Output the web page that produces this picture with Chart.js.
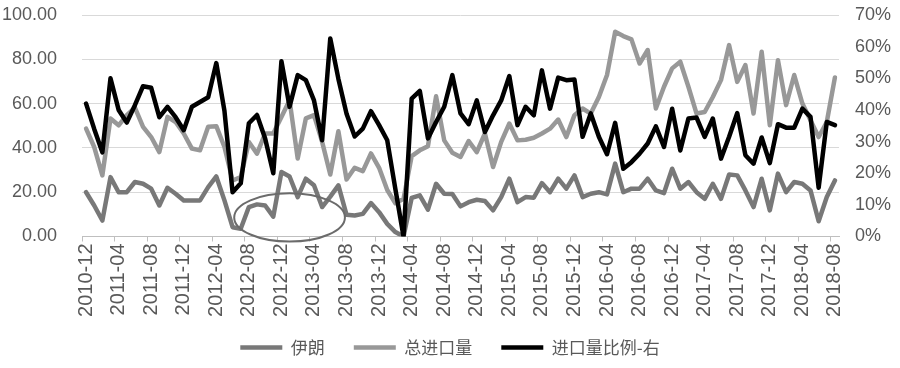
<!DOCTYPE html>
<html>
<head>
<meta charset="utf-8">
<script src="https://cdn.jsdelivr.net/npm/chart.js@4/dist/chart.umd.min.js"></script>
<style>
  html, body { margin: 0; padding: 0; background: #ffffff; }
  #wrap { width: 900px; height: 368px; }
</style>
</head>
<body>
<div id="wrap"><canvas id="c" width="900" height="368"></canvas></div>
<script>
// ---- categories ----
const months = [
  "2010-12",
  "2011-01","2011-02","2011-03","2011-04","2011-05","2011-06","2011-07","2011-08","2011-09","2011-10","2011-11","2011-12",
  "2012-01","2012-02","2012-03","2012-04","2012-05","2012-06","2012-07","2012-08","2012-09","2012-10","2012-11","2012-12",
  "2013-01","2013-02","2013-03","2013-04","2013-05","2013-06","2013-07","2013-08","2013-09","2013-10","2013-11","2013-12",
  "2014-01","2014-02","2014-03","2014-04","2014-05","2014-06","2014-07","2014-08","2014-09","2014-10","2014-11","2014-12",
  "2015-01","2015-02","2015-03","2015-04","2015-05","2015-06","2015-07","2015-08","2015-09","2015-10","2015-11","2015-12",
  "2016-01","2016-02","2016-03","2016-04","2016-05","2016-06","2016-07","2016-08","2016-09","2016-10","2016-11","2016-12",
  "2017-01","2017-02","2017-03","2017-04","2017-05","2017-06","2017-07","2017-08","2017-09","2017-10","2017-11","2017-12",
  "2018-01","2018-02","2018-03","2018-04","2018-05","2018-06","2018-07","2018-08"
];

// ---- series (left axis) ----
const iran = [
  20, 14, 7.2, 26.8, 20, 20, 24.6, 23.8, 21.6, 14, 22, 19.3, 16.3,
  16.3, 16.3, 22.3, 27.1, 16.3, 4.2, 3.5, 13.3, 14.5, 14, 9, 29.1,
  27.1, 17.8, 26.1, 23.1, 13.3, 18, 23.1, 9.8, 9.5, 10.2, 15.1, 11,
  5.7, 2, 0, 17.4, 18.6, 12.1, 23.8, 19.3, 19.2, 13.6, 15.5, 16.6,
  16, 11.8, 17.8, 26.1, 15.5, 17.8, 17.5, 24.1, 20, 26.1, 21.6, 27.6,
  17.8, 19.3, 20, 19, 32.9, 20, 21.6, 21.6, 26.1, 20.8, 19.6, 30.6,
  21.6, 24.6, 20, 17, 23.8, 17, 28, 27.6, 20.8, 13.3, 26.1, 11.8,
  28.4, 20, 24.6, 23.8, 20.8, 6.9, 17.8, 25.3
];
const totalImport = [
  48.7, 40.4, 27.6, 53.3, 50.2, 54.8, 58.2, 49.5, 44.9, 38.1, 54, 51.7, 46.5,
  39.7, 38.9, 49.5, 49.8, 40.4, 25.3, 26.8, 42.7, 37.4, 46.5, 46.5, 54,
  61.5, 35.2, 53.3, 54.8, 42.7, 28, 47.5, 25.7, 31, 29.5, 37.5, 31,
  21, 15, 17, 36.3, 38.9, 40.8, 63.3, 43.4, 37.8, 35.9, 43.1, 38.1,
  46.5, 31.4, 42.7, 51, 43.4, 43.7, 44.6, 46.5, 48.7, 52.8, 44.9, 54.8,
  57.8, 55.5, 63, 72.9, 92.4, 90.5, 89, 78.1, 84.2, 57.8, 67.6, 75.9,
  78.9, 67.6, 55.5, 56.2, 63, 70.6, 86.4, 69.8, 77.4, 55.5, 83.4, 50.2,
  79.6, 59.3, 72.9, 60, 52.5, 44.9, 51.7, 71.8
];
// ---- series (right axis, %) ----
const importRatio = [
  42, 34, 26.6, 50, 40, 36, 41.5, 47.5, 47, 37.7, 41, 37.7, 33.6,
  41, 42.5, 44, 54.8, 39.7, 14, 16.8, 35.8, 38.4, 31, 20, 55.4,
  41, 51, 49.4, 43, 30.4, 62.6, 49.8, 38.8, 31.6, 34.1, 39.6, 35.2,
  30.4, 15, 0, 43.6, 46, 31, 36.2, 41, 51, 38.9, 35.5, 43,
  33, 38.3, 43, 50.7, 35.2, 41, 38.3, 52.5, 40.4, 50.2, 49.4, 49.6,
  31.5, 38.9, 31.5, 26, 35.9, 21.4, 23.5, 26.2, 29.4, 34.8, 28.3, 40.4,
  27.2, 37.3, 37.6, 31.5, 37.3, 24.6, 31.5, 39, 25.7, 23, 31.3, 23.2,
  35.5, 34.4, 34.4, 40.4, 37.8, 15.4, 36.2, 35.2
];

// ---- axis ticks ----
const leftTicks = [0, 20, 40, 60, 80, 100];
const rightTicks = [0, 10, 20, 30, 40, 50, 60, 70];
const seriesNames = ["伊朗", "总进口量", "进口量比例-右"];

// ---- annotation ellipse (in category index / left-axis value units) ----
const ellipseNote = { cx: 25, cy: 8.6, rx: 6.8, ry: 10.9 };

const labelColor = '#595959';

const ellipsePlugin = {
  id: 'ellipseNote',
  afterDatasetsDraw(chart) {
    const xs = chart.scales.x, ys = chart.scales.y;
    const px = xs.getPixelForValue(ellipseNote.cx);
    const py = ys.getPixelForValue(ellipseNote.cy);
    const rx = Math.abs(xs.getPixelForValue(ellipseNote.cx + ellipseNote.rx) - px);
    const ry = Math.abs(ys.getPixelForValue(ellipseNote.cy + ellipseNote.ry) - py);
    const ctx = chart.ctx;
    ctx.save();
    ctx.beginPath();
    ctx.ellipse(px, py, rx, ry, 0, 0, Math.PI * 2);
    ctx.strokeStyle = '#6b6b6b';
    ctx.lineWidth = 2;
    ctx.stroke();
    ctx.restore();
  }
};

const noPad = (s) => { s.paddingTop = 0; s.paddingBottom = 0; s.paddingLeft = 0; s.paddingRight = 0; };

new Chart(document.getElementById('c'), {
  type: 'line',
  data: {
    labels: months,
    datasets: [
      { label: seriesNames[0], data: iran, yAxisID: 'y', borderColor: '#787878', backgroundColor: '#787878',
        borderWidth: 4.5, pointRadius: 0, tension: 0, order: 3, borderJoinStyle: 'round', borderCapStyle: 'round' },
      { label: seriesNames[1], data: totalImport, yAxisID: 'y', borderColor: '#989898', backgroundColor: '#989898',
        borderWidth: 4.5, pointRadius: 0, tension: 0, order: 2, borderJoinStyle: 'round', borderCapStyle: 'round' },
      { label: seriesNames[2], data: importRatio, yAxisID: 'y1', borderColor: '#000000', backgroundColor: '#000000',
        borderWidth: 4.5, pointRadius: 0, tension: 0, order: 1, borderJoinStyle: 'round', borderCapStyle: 'round' }
    ]
  },
  options: {
    responsive: false,
    animation: false,
    devicePixelRatio: 1,
    layout: { padding: { top: 15, left: 0, right: 0, bottom: 2 } },
    plugins: {
      tooltip: { enabled: false },
      legend: {
        position: 'bottom',
        labels: {
          usePointStyle: true,
          pointStyle: 'line',
          pointStyleWidth: 42,
          padding: 29,
          color: labelColor,
          font: { family: "'Noto Sans CJK SC', sans-serif", size: 17 },
          sort: (a, b) => a.datasetIndex - b.datasetIndex
        }
      }
    },
    scales: {
      x: {
        offset: true,
        grid: {
          offset: true,
          drawOnChartArea: false,
          tickLength: 5,
          color: (c) => (c.index % 4 === 0 ? '#bfbfbf' : 'rgba(0,0,0,0)')
        },
        border: { display: true, color: '#bfbfbf', width: 1 },
        ticks: {
          autoSkip: false,
          minRotation: 90,
          maxRotation: 90,
          padding: 2,
          color: labelColor,
          font: { family: "'Liberation Sans', Arial, sans-serif", size: 20 },
          callback: function (v, i) { return i % 4 === 0 ? months[i] : ''; }
        },
        afterFit: (s) => {
          s.height = 73.5;
          noPad(s);
          // let the long rotated labels extend below the scale box
          s._computeLabelArea = () => undefined;
        }
      },
      y: {
        position: 'left',
        min: leftTicks[0],
        max: leftTicks[leftTicks.length - 1],
        afterBuildTicks: (s) => { s.ticks = leftTicks.map(v => ({ value: v })); },
        grid: { color: '#d9d9d9', drawTicks: false, lineWidth: 1 },
        border: { display: false },
        ticks: {
          padding: 25,
          color: labelColor,
          font: { family: "'Liberation Sans', Arial, sans-serif", size: 18 },
          callback: (v) => Number(v).toFixed(2)
        },
        afterFit: (s) => { s.width = 82; noPad(s); }
      },
      y1: {
        position: 'right',
        min: rightTicks[0],
        max: rightTicks[rightTicks.length - 1],
        afterBuildTicks: (s) => { s.ticks = rightTicks.map(v => ({ value: v })); },
        grid: { drawOnChartArea: false, drawTicks: false },
        border: { display: false },
        ticks: {
          padding: 16,
          color: labelColor,
          font: { family: "'Liberation Sans', Arial, sans-serif", size: 18 },
          callback: (v) => v + '%'
        },
        afterFit: (s) => { s.width = 61; noPad(s); }
      }
    }
  },
  plugins: [ellipsePlugin]
});
</script>
</body>
</html>
